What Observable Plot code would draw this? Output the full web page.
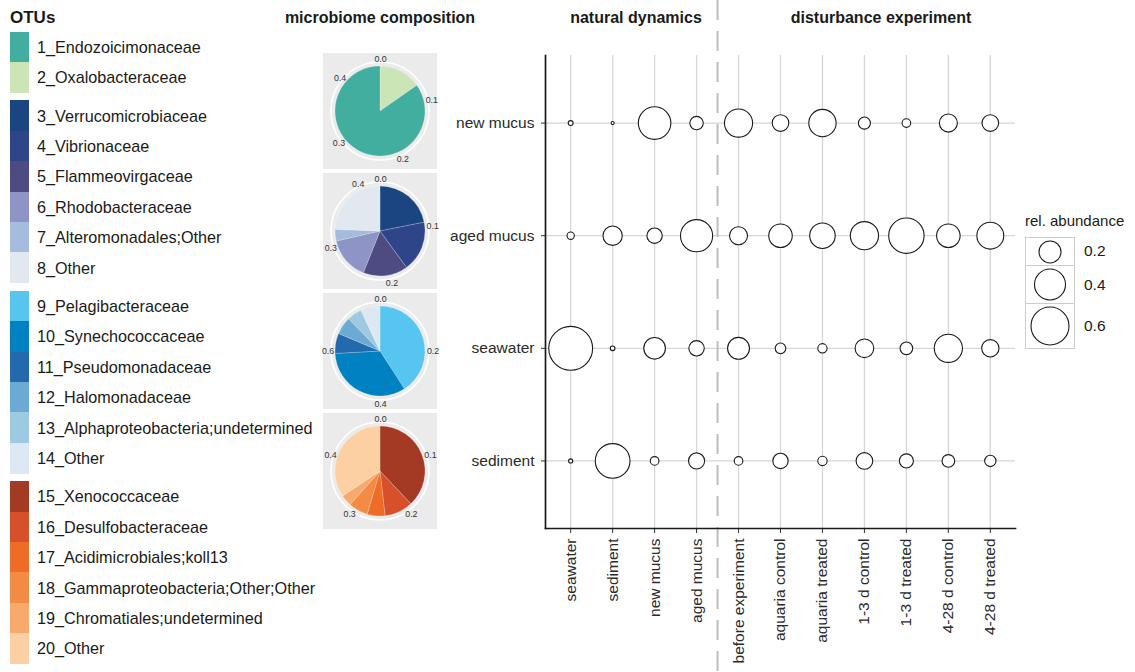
<!DOCTYPE html>
<html><head><meta charset="utf-8">
<script src="https://cdn.jsdelivr.net/npm/d3@7"></script>
<script src="https://cdn.jsdelivr.net/npm/@observablehq/plot@0.6"></script>
<style>
body{margin:0;background:#fff;font-family:"Liberation Sans",Arial,sans-serif;}
#root{position:relative;width:1135px;height:672px;overflow:hidden;background:#fff;}
.title{position:absolute;font-weight:bold;font-size:16px;color:#1a1a1a;white-space:nowrap;transform:translateX(-50%);line-height:20px;}
.otu{position:absolute;font-size:16.2px;color:#1a1a1a;white-space:nowrap;line-height:20px;}
.sw{position:absolute;}
</style></head><body><div id="root"></div>
<script>
// ---------------- data ----------------
const otuLabels = ["1_Endozoicimonaceae","2_Oxalobacteraceae",
  "3_Verrucomicrobiaceae","4_Vibrionaceae","5_Flammeovirgaceae","6_Rhodobacteraceae","7_Alteromonadales;Other","8_Other",
  "9_Pelagibacteraceae","10_Synechococcaceae","11_Pseudomonadaceae","12_Halomonadaceae","13_Alphaproteobacteria;undetermined","14_Other",
  "15_Xenococcaceae","16_Desulfobacteraceae","17_Acidimicrobiales;koll13","18_Gammaproteobacteria;Other;Other","19_Chromatiales;undetermined","20_Other"];
const otuColors = ["#41ae9f","#cce5b6",
  "#1b4580","#2f4589","#4d4b82","#8e94c5","#a5bcdc","#e1e8f0",
  "#56c6f1","#0081c1","#2369ad","#6aaad5","#9ecae1","#dce9f4",
  "#a53a24","#d8502a","#ef6c28","#f48b45","#f8a96c","#fcd0a2"];
const otuGroupSizes = [2,6,6,6];

// pies: values in OTU order of each group, and clockwise drawing order
const pieNewMucus = [0.394, 0.071];
const pieAgedMucus = [0.094, 0.078, 0.069, 0.066, 0.018, 0.105];
const pieSeawater = [0.327, 0.266, 0.058, 0.051, 0.042, 0.056];
const pieSediment = [0.190, 0.051, 0.032, 0.035, 0.020, 0.172];
const pieOrders = [[1,0],[0,1,2,3,4,5],[0,1,2,3,4,5],[0,1,2,3,4,5]];
const pieTicks = [[0,0.1,0.2,0.3,0.4],[0,0.1,0.2,0.3,0.4],[0,0.2,0.4,0.6],[0,0.1,0.2,0.3,0.4]];

// bubble chart
const habitats = ["new mucus","aged mucus","seawater","sediment"];
const samples = ["seawater","sediment","new mucus","aged mucus","before experiment","aquaria control","aquaria treated","1-3 d control","1-3 d treated","4-28 d control","4-28 d treated"];
const relNewMucus  = [0.010, 0.004, 0.44, 0.075, 0.33, 0.115, 0.31, 0.060, 0.031, 0.135, 0.115];
const relAgedMucus = [0.022, 0.155, 0.098, 0.43, 0.135, 0.23, 0.27, 0.33, 0.52, 0.23, 0.30];
const relSeawater  = [0.80, 0.009, 0.195, 0.098, 0.20, 0.047, 0.036, 0.145, 0.067, 0.33, 0.125];
const relSediment  = [0.007, 0.50, 0.031, 0.107, 0.031, 0.098, 0.036, 0.115, 0.082, 0.067, 0.053];
const sizeLegend = [0.2, 0.4, 0.6];

// ---------------- layout ----------------
const root = document.getElementById("root");
const FONT = '"Liberation Sans", Arial, sans-serif';
const W = 1135, H = 672, ml = 545, mr = 120, mt = 55, mb = 144, pad = 0.6;
const rDomain = [0, 0.6], rRange = [0, 19];
const stepX = (W - ml - mr) / (samples.length - 1 + 2 * pad);

const rows = [relNewMucus, relAgedMucus, relSeawater, relSediment];
const bubbles = habitats.flatMap((h, i) => rows[i].map((v, j) => ({habitat: h, sample: samples[j], value: v})));

const main = Plot.plot({
  width: W, height: H,
  marginLeft: ml, marginRight: mr, marginTop: mt, marginBottom: mb,
  style: {fontFamily: FONT, fontSize: "15.5px", color: "#2a2a2a", background: "transparent"},
  x: {type: "point", domain: samples, padding: pad, round: false, label: null},
  y: {type: "point", domain: habitats, padding: pad, round: false, label: null},
  r: {type: "sqrt", domain: rDomain, range: rRange},
  marks: [
    Plot.gridX({stroke: "#d6d6d6", strokeOpacity: 1, strokeWidth: 1.3}),
    Plot.gridY({stroke: "#d6d6d6", strokeOpacity: 1, strokeWidth: 1.3}),
    Plot.ruleX([samples[3]], {dx: stepX / 2, insetTop: -mt, insetBottom: -mb, stroke: "#bdbdbd", strokeWidth: 2, strokeDasharray: "20,11"}),
    Plot.axisY({tickSize: 4, tickPadding: 7, fontSize: 15.5, label: null, stroke: "#333"}),
    Plot.axisX({tickSize: 5, tickPadding: 5, tickRotate: -90, fontSize: 15.5, label: null, stroke: "#333"}),
    Plot.frame({anchor: "left", stroke: "#1a1a1a", strokeWidth: 1.7}),
    Plot.frame({anchor: "bottom", stroke: "#1a1a1a", strokeWidth: 1.7}),
    Plot.dot(bubbles, {x: "sample", y: "habitat", r: "value", fill: "white", stroke: "#1a1a1a", strokeWidth: 1.1})
  ]
});
main.style.position = "absolute"; main.style.left = "0px"; main.style.top = "0px";
root.appendChild(main);

// titles
function addTitle(text, cx) {
  const d = document.createElement("div");
  d.className = "title"; d.textContent = text;
  d.style.left = cx + "px"; d.style.top = "8px";
  root.appendChild(d);
}
addTitle("microbiome composition", 380);
addTitle("natural dynamics", 636);
addTitle("disturbance experiment", 881);

// OTU legend
{
  const t = document.createElement("div");
  t.className = "otu"; t.textContent = "OTUs";
  t.style.fontWeight = "bold"; t.style.fontSize = "17px"; t.style.left = "10px"; t.style.top = "8px";
  root.appendChild(t);
  const rowH = 30.4, gap = 8;
  let y = 31.5, k = 0;
  otuGroupSizes.forEach(n => {
    for (let i = 0; i < n; i++, k++) {
      const s = document.createElement("div");
      s.className = "sw";
      s.style.left = "10px"; s.style.top = y + "px"; s.style.width = "19px"; s.style.height = (rowH + 0.5) + "px";
      s.style.background = otuColors[k];
      root.appendChild(s);
      const l = document.createElement("div");
      l.className = "otu"; l.textContent = otuLabels[k];
      l.style.left = "37px"; l.style.top = (y + rowH / 2 - 10) + "px";
      root.appendChild(l);
      y += rowH;
    }
    y += gap;
  });
}

// pies
const pieData = [pieNewMucus, pieAgedMucus, pieSeawater, pieSediment];
const groupStart = [0, 2, 8, 14];
const boxW = 114, boxH = 116, pieR = 45, ringR = 49, labelR = 52.5;
pieData.forEach((vals, p) => {
  const slices = pieOrders[p].map(i => ({value: vals[i], color: otuColors[groupStart[p] + i]}));
  const total = d3.sum(vals);
  const ticks = pieTicks[p].map(t => ({t, a: t / total * 2 * Math.PI}));
  const pieMark = (index, scales) => {
    const g = d3.create("svg:g");
    const cx = scales.x(0), cy = scales.y(0);
    const R = Math.abs(scales.x(pieR) - cx);
    g.append("circle").attr("cx", cx).attr("cy", cy).attr("r", Math.abs(scales.x(ringR) - cx))
      .attr("fill", "none").attr("stroke", "white").attr("stroke-width", 1.6);
    const arcs = d3.pie().sort(null).value(d => d.value)(slices);
    g.selectAll("path").data(arcs).join("path")
      .attr("transform", `translate(${cx},${cy})`)
      .attr("d", d3.arc().innerRadius(0).outerRadius(R))
      .attr("fill", d => d.data.color)
      .attr("stroke", "white").attr("stroke-opacity", 0.5).attr("stroke-width", 0.4);
    return g.node();
  };
  const chart = Plot.plot({
    width: boxW, height: boxH, margin: 0,
    style: {fontFamily: FONT, background: "#ebebeb", overflow: "visible"},
    x: {domain: [-boxW / 2, boxW / 2], axis: null},
    y: {domain: [-boxH / 2, boxH / 2], axis: null},
    marks: [
      pieMark,
      Plot.text(ticks, {x: d => Math.sin(d.a) * labelR, y: d => Math.cos(d.a) * labelR, text: d => d.t.toFixed(1), fontSize: 8.8, fill: "#333"})
    ]
  });
  chart.style.position = "absolute"; chart.style.left = "323px"; chart.style.top = (53 + p * 120) + "px";
  root.appendChild(chart);
});

// size legend
{
  const rs = d3.scaleSqrt().domain(rDomain).range(rRange);
  const t = document.createElement("div");
  t.className = "otu"; t.textContent = "rel. abundance"; t.style.fontSize = "15px";
  t.style.left = "1025px"; t.style.top = "211px";
  root.appendChild(t);
  let y = 236.5;
  sizeLegend.forEach(v => {
    const r = rs(v), h = 2 * r + 8;
    const box = document.createElementNS("http://www.w3.org/2000/svg", "svg");
    box.setAttribute("width", 50); box.setAttribute("height", h);
    box.style.position = "absolute"; box.style.left = "1025px"; box.style.top = y + "px";
    box.innerHTML = `<rect x="0.5" y="0.5" width="49" height="${h - 1}" fill="white" stroke="#cccccc"/><circle cx="25" cy="${h / 2}" r="${r}" fill="white" stroke="#1a1a1a" stroke-width="1.1"/>`;
    root.appendChild(box);
    const l = document.createElement("div");
    l.className = "otu"; l.textContent = v.toFixed(1); l.style.fontSize = "15.5px";
    l.style.left = "1084px"; l.style.top = (y + h / 2 - 10) + "px";
    root.appendChild(l);
    y += h - 1;
  });
}
</script></body></html>
